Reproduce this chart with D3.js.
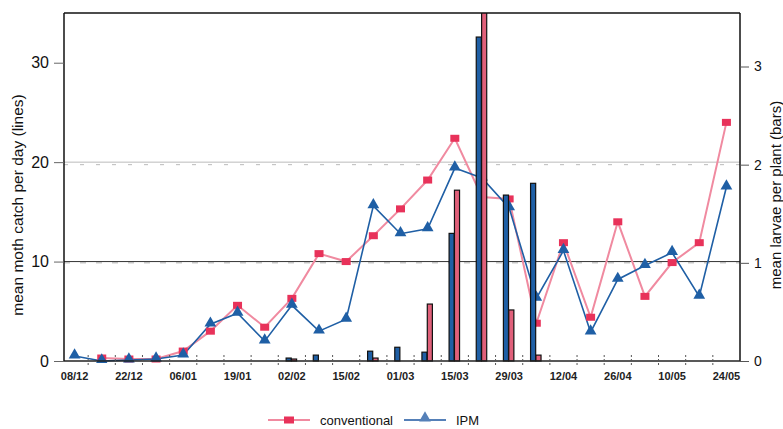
<!DOCTYPE html>
<html>
<head>
<meta charset="utf-8">
<script src="https://cdn.jsdelivr.net/npm/d3@7"></script>
<style>
  body { margin: 0; background: #fff; }
  svg { font-family: "Liberation Sans", Arial, sans-serif; }
</style>
</head>
<body>
<div id="chart"></div>
<script>
// weekly sample dates
var weeks = ["08/12", "15/12", "22/12", "29/12", "06/01", "12/01", "19/01", "26/01", "02/02", "09/02",
    "15/02", "22/02", "01/03", "08/03", "15/03", "22/03", "29/03", "05/04", "12/04", "19/04",
    "26/04", "03/05", "10/05", "17/05", "24/05"];
var labelWeeks = ["08/12", "22/12", "06/01", "19/01", "02/02", "15/02", "01/03", "15/03", "29/03",
    "12/04", "26/04", "10/05", "24/05"];
// mean moth catch per day (lines, left axis)
var mothConv = [null, 0.3, 0.2, 0.2, 1.0, 3.0, 5.6, 3.4, 6.3, 10.8, 10.0, 12.6, 15.3, 18.2, 22.4,
    16.5, 16.3, 3.8, 11.9, 4.4, 14.0, 6.5, 9.9, 11.9, 24.0];
var mothIPM = [0.5, 0.0, 0.1, 0.2, 0.6, 3.7, 4.8, 2.0, 5.6, 3.0, 4.2, 15.6, 12.8, 13.3, 19.4,
    18.4, 15.4, 6.3, 11.1, 2.9, 8.2, 9.6, 10.9, 6.5, 17.5];
// mean larvae per plant (bars, right axis)
var larvaeIPM = [0, 0, 0, 0, 0, 0, 0, 0, 0.03, 0.06, 0, 0.1, 0.14, 0.09, 1.3, 3.3, 1.69, 1.81,
    0, 0, 0, 0, 0, 0, 0];
var larvaeConv = [0, 0, 0, 0, 0, 0, 0, 0, 0.02, 0, 0, 0.03, 0, 0.58, 1.74, 3.6, 0.52, 0.06,
    0, 0, 0, 0, 0, 0, 0];
var leftTicks = [0, 10, 20, 30];
var rightTicks = [0, 1, 2, 3];

var pinkLine = "#f08aa0", pinkMark = "#e8325a", pinkBar = "#e0607a";
var blue = "#1f5fa5";

var svg = d3.select("#chart").append("svg")
    .attr("width", 783)
    .attr("height", 429);

var mLeft = 64, mRight = 740, mTop = 13, mBottom = 361;

var x = d3.scaleBand().domain(weeks).range([61, 740]);
var xs = d3.scaleBand().domain(["ipm", "conv"]).range([-6, 5]).padding(0.05);
var yL = d3.scaleLinear().domain([0, 35]).range([mBottom, mTop]);
var yR = d3.scaleLinear().domain([0, 3.545]).range([mBottom, mTop]);
function cx(d) { return x(d) + x.bandwidth() / 2; }

svg.append("defs").append("clipPath").attr("id", "plot")
    .append("rect").attr("x", mLeft).attr("y", mTop)
    .attr("width", mRight - mLeft).attr("height", mBottom - mTop + 2);

// grid lines
svg.append("line").attr("x1", mLeft).attr("x2", mRight)
    .attr("y1", yL(10)).attr("y2", yL(10))
    .attr("stroke", "#333").attr("stroke-width", 1);
svg.append("line").attr("x1", mLeft).attr("x2", mRight)
    .attr("y1", yL(20)).attr("y2", yL(20))
    .attr("stroke", "#bbb").attr("stroke-width", 1);
svg.append("line").attr("x1", mLeft).attr("x2", mRight)
    .attr("y1", yR(1)).attr("y2", yR(1))
    .attr("stroke", "#999").attr("stroke-width", 0.8).attr("stroke-dasharray", "6,10");
svg.append("line").attr("x1", mLeft).attr("x2", mRight)
    .attr("y1", yR(2)).attr("y2", yR(2))
    .attr("stroke", "#aaa").attr("stroke-width", 0.8).attr("stroke-dasharray", "4,12");

var plot = svg.append("g").attr("clip-path", "url(#plot)");

// lines
var line = d3.line()
    .defined(function (d) { return d != null; })
    .x(function (d, i) { return cx(weeks[i]); })
    .y(function (d) { return yL(d); });

plot.append("path").datum(mothConv)
    .attr("d", line)
    .attr("fill", "none")
    .attr("stroke", pinkLine)
    .attr("stroke-width", 2);
plot.append("path").datum(mothIPM)
    .attr("d", line)
    .attr("fill", "none")
    .attr("stroke", blue)
    .attr("stroke-width", 1.6);

// square markers
mothConv.forEach(function (d, i) {
    if (d == null) return;
    plot.append("rect")
        .attr("x", cx(weeks[i]) - 4.5)
        .attr("y", yL(d) - 3.5)
        .attr("width", 9)
        .attr("height", 7)
        .attr("fill", pinkMark);
});
// triangle markers
var tri = d3.symbol().type(d3.symbolTriangle).size(60);
mothIPM.forEach(function (d, i) {
    plot.append("path")
        .attr("d", tri)
        .attr("transform", "translate(" + cx(weeks[i]) + "," + (yL(d) - 1) + ")")
        .attr("fill", blue);
});

// bars
weeks.forEach(function (w, i) {
    var c = cx(w);
    if (larvaeIPM[i] > 0) {
        plot.append("rect")
            .attr("x", c + xs("ipm"))
            .attr("y", yR(larvaeIPM[i]))
            .attr("width", xs.bandwidth())
            .attr("height", yR(0) - yR(larvaeIPM[i]))
            .attr("fill", blue)
            .attr("stroke", "#111")
            .attr("stroke-width", 1.2);
    }
    if (larvaeConv[i] > 0) {
        plot.append("rect")
            .attr("x", c + xs("conv"))
            .attr("y", yR(larvaeConv[i]))
            .attr("width", xs.bandwidth())
            .attr("height", yR(0) - yR(larvaeConv[i]))
            .attr("fill", pinkBar)
            .attr("stroke", "#111")
            .attr("stroke-width", 1.2);
    }
});

// frame
svg.append("line").attr("x1", mLeft).attr("x2", mRight).attr("y1", mTop).attr("y2", mTop)
    .attr("stroke", "#111").attr("stroke-width", 1.5);
svg.append("line").attr("x1", mRight).attr("x2", mRight).attr("y1", mTop).attr("y2", mBottom)
    .attr("stroke", "#111").attr("stroke-width", 1.5);
svg.append("line").attr("x1", mLeft).attr("x2", mRight).attr("y1", mBottom).attr("y2", mBottom)
    .attr("stroke", "#222").attr("stroke-width", 1.5);

// week boundary ticks
var bounds = weeks.map(function (w) { return x(w); }).slice(1);
svg.selectAll(".wt").data(bounds).enter().append("line")
    .attr("x1", function (d) { return d; })
    .attr("x2", function (d) { return d; })
    .attr("y1", mBottom - 6).attr("y2", mBottom + 6)
    .attr("stroke", "#555")
    .attr("stroke-width", 1)
    .attr("stroke-dasharray", "2,2");

// axes
var xAxis = svg.append("g")
    .attr("transform", "translate(0," + mBottom + ")")
    .call(d3.axisBottom(x).tickSize(0).tickPadding(11)
        .tickFormat(function (d) { return labelWeeks.indexOf(d) >= 0 ? d : ""; }));
xAxis.select(".domain").remove();
xAxis.selectAll("text")
    .attr("font-size", "11px")
    .attr("font-weight", "bold")
    .attr("fill", "#222");

var lAxis = svg.append("g")
    .attr("transform", "translate(" + mLeft + ",0)")
    .call(d3.axisLeft(yL).tickValues(leftTicks).tickSize(10).tickPadding(5));
lAxis.select(".domain").attr("stroke", "#111").attr("stroke-width", 1.5)
    .attr("d", "M0," + mTop + "V" + mBottom);
lAxis.selectAll(".tick line").attr("stroke", "#666");
lAxis.selectAll("text").attr("font-size", "16px").attr("fill", "#111");

var rAxis = svg.append("g")
    .attr("transform", "translate(" + mRight + ",0)")
    .call(d3.axisRight(yR).tickValues(rightTicks).tickSize(9).tickPadding(5)
        .tickFormat(d3.format("d")));
rAxis.select(".domain").remove();
rAxis.selectAll(".tick line").attr("stroke", "#555");
rAxis.selectAll("text").attr("font-size", "14px").attr("fill", "#111");

// axis titles
svg.append("text")
    .attr("transform", "translate(23,205) rotate(-90)")
    .attr("text-anchor", "middle")
    .attr("font-size", "15.5px")
    .attr("fill", "#111")
    .text("mean moth catch per day (lines)");
svg.append("text")
    .attr("transform", "translate(781,195) rotate(-90)")
    .attr("text-anchor", "middle")
    .attr("font-size", "15px")
    .attr("fill", "#111")
    .text("mean larvae per plant (bars)");

// legend
var lg = svg.append("g");
lg.append("line").attr("x1", 268).attr("x2", 310).attr("y1", 420).attr("y2", 420)
    .attr("stroke", pinkLine).attr("stroke-width", 2);
lg.append("rect").attr("x", 284).attr("y", 416.5).attr("width", 10).attr("height", 7)
    .attr("fill", pinkMark);
lg.append("text").attr("x", 320).attr("y", 424.5)
    .attr("font-size", "13px").attr("fill", "#111").text("conventional");
lg.append("line").attr("x1", 404).attr("x2", 446).attr("y1", 420).attr("y2", 420)
    .attr("stroke", "#5580b8").attr("stroke-width", 2);
lg.append("path").attr("d", tri)
    .attr("transform", "translate(425,418)")
    .attr("fill", "#5580b8");
lg.append("text").attr("x", 456).attr("y", 424.5)
    .attr("font-size", "13px").attr("fill", "#111").text("IPM");
</script>
</body>
</html>
